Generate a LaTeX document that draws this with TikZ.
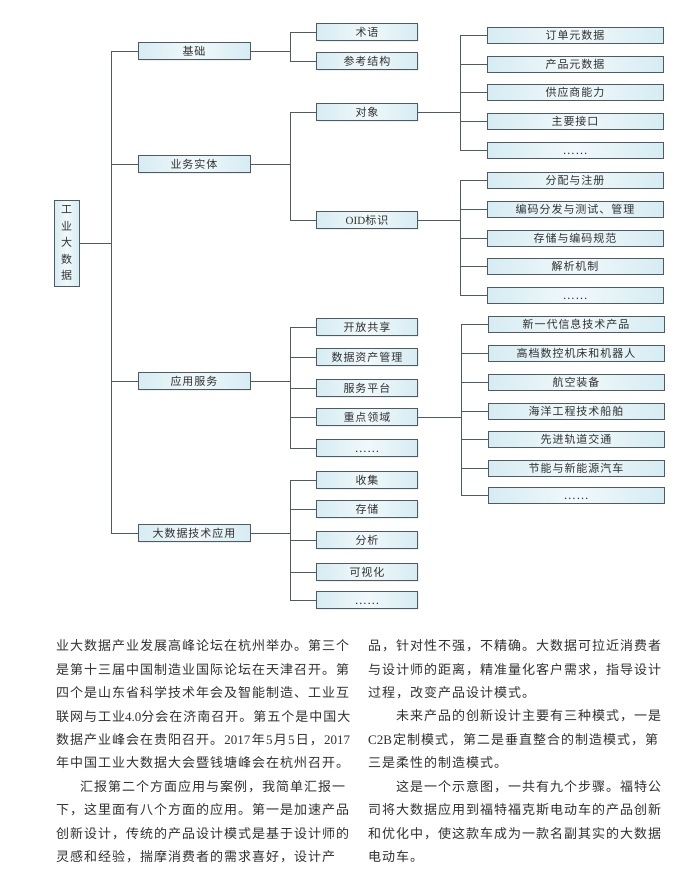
\documentclass[tikz,border=0pt]{standalone}
\usepackage{fontspec}
\setmainfont{Liberation Serif}
\newfontfamily\cjk[LetterSpace=7.7]{Noto Sans CJK SC}
\newfontfamily\cjkbox[LetterSpace=9]{Noto Sans CJK SC}
\newfontfamily\latn{Liberation Serif}
\usetikzlibrary{shadows}
\definecolor{boxfill}{HTML}{D6ECF3}
\definecolor{boxline}{HTML}{4F5B63}
\definecolor{txt}{HTML}{303030}
\definecolor{conncol}{HTML}{4F5B63}
\newcommand\fullline[1]{\hbox to 294pt{#1}}
\begin{document}
\begin{tikzpicture}[x=1pt,y=-1pt,
  box/.style={draw=boxline, line width=0.7pt, left color=boxfill, right color=boxfill, middle color=boxfill!35!white,
    inner sep=0pt, text=txt, font=\cjkbox\fontsize{11}{12}\selectfont, text height=8.4pt, text depth=0pt,
    drop shadow={shadow xshift=1pt, shadow yshift=-1pt, opacity=0.12}},
  lone/.style={box, minimum width=112pt, minimum height=17pt},
  ltwo/.style={box, minimum width=101pt, minimum height=17pt},
  lthree/.style={box, minimum width=176pt, minimum height=16pt},
  conn/.style={draw=conncol, line width=0.7pt},
  bodytext/.style={anchor=west, inner sep=0pt, text=txt, font=\cjk\fontsize{13}{15}\selectfont}]
\useasboundingbox[fill=white] (0,0) rectangle (698,878);

% root
\node[draw=boxline, line width=0.7pt, left color=boxfill, right color=boxfill, middle color=boxfill!35!white,
  inner sep=0pt, text=txt, drop shadow={shadow xshift=1pt, shadow yshift=-1pt, opacity=0.12},
  minimum width=25pt, minimum height=86pt, align=center,
  font=\cjkbox\fontsize{11}{16.5}\selectfont] (root) at (66.5,243) {工\\业\\大\\数\\据};

% level 1
\node[lone] (base) at (194,51) {基础};
\node[lone] (biz) at (194,164) {业务实体};
\node[lone] (app) at (194,381) {应用服务};
\node[lone] (tech) at (194,533) {大数据技术应用};

% level 2
\node[ltwo] (term) at (367,32) {术语};
\node[ltwo] (ref) at (367,61) {参考结构};
\node[ltwo] (obj) at (367,112) {对象};
\node[ltwo] (oid) at (367,220) {{\latn OID}标识};
\node[ltwo] (open) at (367,327) {开放共享};
\node[ltwo] (asset) at (367,357) {数据资产管理};
\node[ltwo] (plat) at (367,388) {服务平台};
\node[ltwo] (key) at (367,417) {重点领域};
\node[ltwo] (appdots) at (367,448) {……};
\node[ltwo] (col) at (367,480) {收集};
\node[ltwo] (sto) at (367,509) {存储};
\node[ltwo] (ana) at (367,540) {分析};
\node[ltwo] (vis) at (367,572) {可视化};
\node[ltwo] (techdots) at (367,600) {……};

% level 3
\node[lthree] (o1) at (575,35) {订单元数据};
\node[lthree] (o2) at (575,64) {产品元数据};
\node[lthree] (o3) at (575,92) {供应商能力};
\node[lthree] (o4) at (575,121) {主要接口};
\node[lthree] (o5) at (575,150) {……};
\node[lthree] (d1) at (575,180) {分配与注册};
\node[lthree] (d2) at (575,209) {编码分发与测试、管理};
\node[lthree] (d3) at (575,238) {存储与编码规范};
\node[lthree] (d4) at (575,266) {解析机制};
\node[lthree] (d5) at (575,295) {……};
\node[lthree] (k1) at (576,324) {新一代信息技术产品};
\node[lthree] (k2) at (576,353) {高档数控机床和机器人};
\node[lthree] (k3) at (576,382) {航空装备};
\node[lthree] (k4) at (576,411) {海洋工程技术船舶};
\node[lthree] (k5) at (576,439) {先进轨道交通};
\node[lthree] (k6) at (576,468) {节能与新能源汽车};
\node[lthree] (k7) at (576,495) {……};

% connectors
\foreach \c in {base,biz,app,tech} \draw[conn] (root.east) -- ++(32,0) |- (\c.west);
\foreach \c in {term,ref} \draw[conn] (base.east) -- ++(40,0) |- (\c.west);
\foreach \c in {obj,oid} \draw[conn] (biz.east) -- ++(40,0) |- (\c.west);
\foreach \c in {open,asset,plat,key,appdots} \draw[conn] (app.east) -- ++(40,0) |- (\c.west);
\foreach \c in {col,sto,ana,vis,techdots} \draw[conn] (tech.east) -- ++(40,0) |- (\c.west);
\foreach \c in {o1,o2,o3,o4,o5} \draw[conn] (obj.east) -- ++(42,0) |- (\c.west);
\foreach \c in {d1,d2,d3,d4,d5} \draw[conn] (oid.east) -- ++(42,0) |- (\c.west);
\foreach \c in {k1,k2,k3,k4,k5,k6,k7} \draw[conn] (key.east) -- ++(43,0) |- (\c.west);

% body text, left column
\node[bodytext] (la) at (56,646) {业大数据产业发展高峰论坛在杭州举办。第三个};
\node[bodytext] (lb) at (56,669.4) {是第十三届中国制造业国际论坛在天津召开。第};
\node[bodytext] (lc) at (56,692.8) {四个是山东省科学技术年会及智能制造、工业互};
\node[bodytext] (ld) at (56,716.2) {\fullline{联网与工业\hfil{\latn 4.0}\hfil 分会在济南召开。第五个是中国大}};
\node[bodytext] (le) at (56,739.6) {\fullline{数据产业峰会在贵阳召开。\hfil{\latn 2017}\hfil 年\hfil{\latn 5}\hfil 月\hfil{\latn 5}\hfil 日，\hfil{\latn 2017}}};
\node[bodytext] (lf) at (56,763) {年中国工业大数据大会暨钱塘峰会在杭州召开。};
\node[bodytext] (lg) at (80,786.4) {汇报第二个方面应用与案例，我简单汇报一};
\node[bodytext] (lh) at (56,809.8) {下，这里面有八个方面的应用。第一是加速产品};
\node[bodytext] (li) at (56,833.2) {创新设计，传统的产品设计模式是基于设计师的};
\node[bodytext] (lj) at (56,856.6) {灵感和经验，揣摩消费者的需求喜好，设计产};

% body text, right column
\node[bodytext] (ra) at (368,646) {品，针对性不强，不精确。大数据可拉近消费者};
\node[bodytext] (rb) at (368,669.4) {与设计师的距离，精准量化客户需求，指导设计};
\node[bodytext] (rc) at (368,692.8) {过程，改变产品设计模式。};
\node[bodytext] (rd) at (396,716.2) {未来产品的创新设计主要有三种模式，一是};
\node[bodytext] (re) at (368,739.6) {\fullline{{\latn C2B}\hskip1pt 定制模式，第二是垂直整合的制造模式，第\hfil}};
\node[bodytext] (rf) at (368,763) {三是柔性的制造模式。};
\node[bodytext] (rg) at (396,786.4) {这是一个示意图，一共有九个步骤。福特公};
\node[bodytext] (rh) at (368,809.8) {司将大数据应用到福特福克斯电动车的产品创新};
\node[bodytext] (ri) at (368,833.2) {和优化中，使这款车成为一款名副其实的大数据};
\node[bodytext] (rj) at (368,856.6) {电动车。};
\end{tikzpicture}
\end{document}
